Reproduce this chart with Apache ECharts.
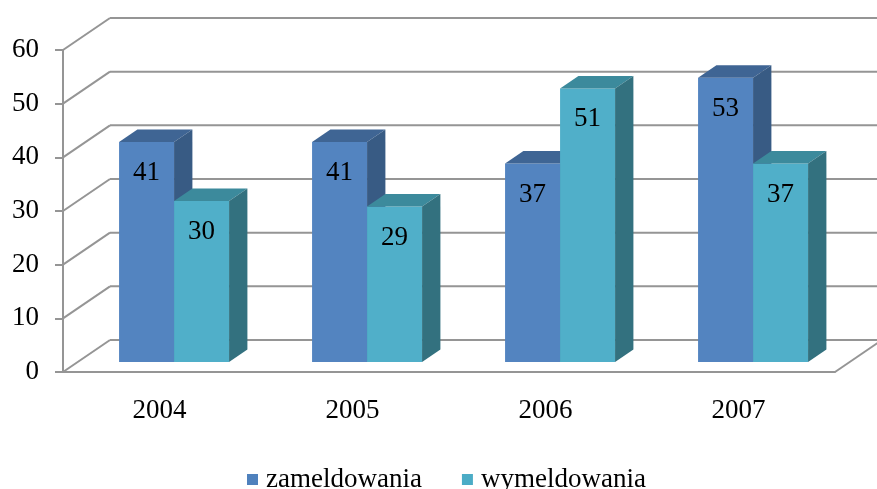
<!DOCTYPE html>
<html>
<head>
<meta charset="utf-8">
<script src="https://cdn.jsdelivr.net/npm/echarts@6/dist/echarts.min.js"></script>
<style>
  html, body { margin: 0; padding: 0; background: #fff; }
  #chart { width: 877px; height: 489px; }
</style>
</head>
<body>
<div id="chart"></div>
<script>
// dane z wykresu
const years = ['2004', '2005', '2006', '2007'];
const zameldowania = [41, 41, 37, 53];
const wymeldowania = [30, 29, 51, 37];
const yTicks = [0, 10, 20, 30, 40, 50, 60];

// głębokość "3D" (przesunięcie tylnej ściany)
const DX = 47, DY = -32;
const FONT = '"Liberation Serif", "Times New Roman", serif';

const chart = echarts.init(document.getElementById('chart'));

// tylna ściana i podłoga
function renderFrame(params, api) {
  const cs = params.coordSys;
  const L = cs.x, R = cs.x + cs.width;
  const children = [];
  const lineStyle = { stroke: '#959595', lineWidth: 2 };
  yTicks.forEach(t => {
    const y = api.coord([0, t])[1];
    children.push({ type: 'line', shape: { x1: L, y1: y, x2: L + DX, y2: y + DY }, style: lineStyle });
    children.push({ type: 'line', shape: { x1: L + DX, y1: y + DY, x2: R + DX, y2: y + DY }, style: lineStyle });
  });
  const y0 = api.coord([0, 0])[1];
  children.push({ type: 'line', shape: { x1: R, y1: y0, x2: R + DX, y2: y0 + DY }, style: lineStyle });
  return { type: 'group', children: children };
}

// słupek 3D: przód, góra, bok
function barRenderer(slot, front, top, side) {
  return function (params, api) {
    const i = api.value(0), v = api.value(1);
    const c = api.coord([i, v]);
    const b = api.coord([i, 0]);
    const band = api.size([1, 0])[0];
    const w = band * 0.285;
    const ox = DX * 0.31, oy = DY * 0.31;
    const dx = DX * 0.39, dy = DY * 0.39;
    const x0 = c[0] + (slot === 0 ? -w : 0) + ox;
    const x1 = x0 + w;
    const yt = c[1] + oy, yb = b[1] + oy;
    return {
      type: 'group',
      children: [
        { type: 'polygon', shape: { points: [[x0, yt], [x1, yt], [x1, yb], [x0, yb]] }, style: { fill: front } },
        { type: 'polygon', shape: { points: [[x0, yt], [x1, yt], [x1 + dx, yt + dy], [x0 + dx, yt + dy]] }, style: { fill: top } },
        { type: 'polygon', shape: { points: [[x1, yt], [x1 + dx, yt + dy], [x1 + dx, yb + dy], [x1, yb]] }, style: { fill: side } },
        { type: 'text', style: { text: String(v), x: (x0 + x1) / 2, y: yt + 31, textAlign: 'center', textVerticalAlign: 'middle', fill: '#000', fontSize: 27, fontFamily: FONT } }
      ]
    };
  };
}

const option = {
  animation: false,
  color: ['#4F81BD', '#4BACC6'],
  grid: { left: 63, right: 42, top: 50, bottom: 117 },
  legend: {
    data: ['zameldowania', 'wymeldowania'],
    left: 242,
    top: 461,
    icon: 'rect',
    itemWidth: 11,
    itemHeight: 11,
    itemGap: 40,
    textStyle: { color: '#000', fontSize: 27, fontFamily: FONT, padding: [0, 0, 0, 3] }
  },
  xAxis: {
    type: 'category',
    data: years,
    axisLine: { lineStyle: { color: '#959595', width: 2 } },
    axisTick: { show: false },
    axisLabel: { color: '#000', fontSize: 27, fontFamily: FONT, margin: 25 }
  },
  yAxis: {
    type: 'value',
    min: 0,
    max: 60,
    interval: 10,
    axisLine: { show: true, lineStyle: { color: '#959595', width: 2 } },
    axisTick: { show: true, inside: false, length: 8, lineStyle: { color: '#959595', width: 2 } },
    axisLabel: { color: '#000', fontSize: 27, fontFamily: FONT, margin: 24 },
    splitLine: { show: false }
  },
  series: [
    {
      name: 'frame',
      type: 'custom',
      renderItem: renderFrame,
      data: [[0, 0]],
      silent: true,
      z: 1
    },
    {
      name: 'zameldowania',
      type: 'custom',
      renderItem: barRenderer(0, '#5384c0', '#3f6594', '#385b84'),
      data: zameldowania.map((v, i) => [i, v]),
      itemStyle: { color: '#4F81BD' },
      z: 2
    },
    {
      name: 'wymeldowania',
      type: 'custom',
      renderItem: barRenderer(1, '#50afc9', '#3c8a9c', '#33717f'),
      data: wymeldowania.map((v, i) => [i, v]),
      itemStyle: { color: '#4BACC6' },
      z: 2
    }
  ]
};

chart.setOption(option);
</script>
</body>
</html>
